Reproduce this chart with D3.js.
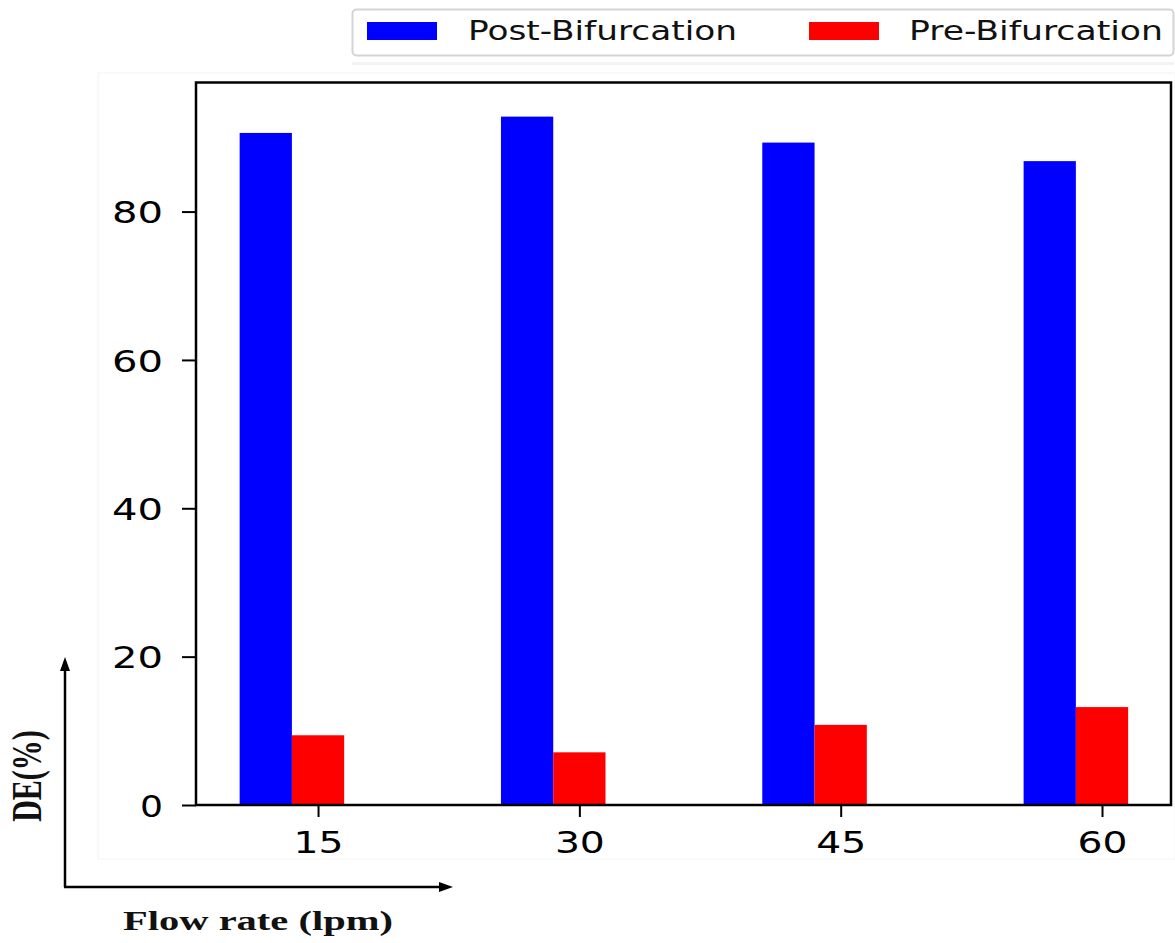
<!DOCTYPE html>
<html>
<head>
<meta charset="utf-8">
<script src="https://cdn.jsdelivr.net/npm/d3@7"></script>
<style>
  html, body { margin: 0; padding: 0; background: #fff; }
  svg { display: block; }
</style>
</head>
<body>
<svg id="chart" width="1175" height="943"></svg>
<script>
// ---- data ----
const categories = ["15", "30", "45", "60"];
const seriesNames = ["Post-Bifurcation", "Pre-Bifurcation"];
const postValues = [90.6, 92.8, 89.3, 86.8];
const preValues = [9.4, 7.1, 10.8, 13.2];
const yTicks = [0, 20, 40, 60, 80];
const yLabel = "DE(%)";
const xLabel = "Flow rate (lpm)";
const colors = ["#0000ff", "#ff0000"];

// ---- layout ----
const svg = d3.select("#chart");
const L = 196, R = 1171, T = 82.5, B = 805;

const x = d3.scaleLinear().domain([-0.467, 3.264]).range([L, R]);
const y = d3.scaleLinear().domain([0, 97.4]).range([B, T]);
const barW = x(0.2) - x(0);

// faint figure frame
svg.append("rect").attr("x", 98).attr("y", 73).attr("width", 1077).attr("height", 786)
  .attr("fill", "none").attr("stroke", "#f4f4f4").attr("stroke-width", 1);

// bars (tick sits at the centre of the second bar)
const series = [postValues, preValues];
series.forEach((vals, si) => {
  svg.append("g").selectAll("rect").data(vals).join("rect")
    .attr("x", (d, i) => x(i) + (si === 0 ? -1.5 * barW : -0.5 * barW))
    .attr("y", d => y(d))
    .attr("width", barW)
    .attr("height", d => y(0) - y(d))
    .attr("fill", colors[si]);
});

// spines
svg.append("rect").attr("x", L).attr("y", T).attr("width", R - L).attr("height", B - T)
  .attr("fill", "none").attr("stroke", "#000").attr("stroke-width", 2.5);

// y axis
const yAxis = svg.append("g").attr("transform", `translate(${L},0)`)
  .call(d3.axisLeft(y).tickValues(yTicks).tickSize(14).tickPadding(19).tickFormat(d3.format("d")));
yAxis.select(".domain").remove();
yAxis.selectAll(".tick line").attr("stroke", "#000").attr("stroke-width", 2);
yAxis.selectAll(".tick text")
  .attr("font-family", "DejaVu Sans").attr("font-size", 31).attr("fill", "#000")
  .attr("dy", "0.36em")
  .attr("textLength", d => String(d).length === 1 ? 23 : 51)
  .attr("lengthAdjust", "spacingAndGlyphs");

// x axis
const xAxis = svg.append("g").attr("transform", `translate(0,${B})`)
  .call(d3.axisBottom(x).tickValues(d3.range(categories.length)).tickSize(12).tickPadding(0)
    .tickFormat(i => categories[i]));
xAxis.select(".domain").remove();
xAxis.selectAll(".tick line").attr("stroke", "#000").attr("stroke-width", 2);
xAxis.selectAll(".tick text")
  .attr("font-family", "DejaVu Sans").attr("font-size", 30).attr("fill", "#000")
  .attr("y", 48).attr("dy", 0)
  .attr("textLength", 50).attr("lengthAdjust", "spacingAndGlyphs");

// legend
const lg = svg.append("g");
lg.append("rect").attr("x", 352).attr("y", 62).attr("width", 822).attr("height", 3)
  .attr("fill", "#f3f3f3");
lg.append("rect").attr("x", 352.5).attr("y", 9.5).attr("width", 821).attr("height", 46)
  .attr("rx", 4).attr("fill", "#fff").attr("stroke", "#d4d4d4").attr("stroke-width", 2);
const legendItems = [
  { name: seriesNames[0], color: colors[0], px: 367, tx: 468, tl: 269 },
  { name: seriesNames[1], color: colors[1], px: 809, tx: 909, tl: 254 }
];
legendItems.forEach(it => {
  lg.append("rect").attr("x", it.px).attr("y", 22).attr("width", 70).attr("height", 18)
    .attr("fill", it.color);
  lg.append("text").attr("x", it.tx).attr("y", 40)
    .attr("font-family", "DejaVu Sans").attr("font-size", 26).attr("fill", "#111")
    .attr("textLength", it.tl).attr("lengthAdjust", "spacingAndGlyphs")
    .text(it.name);
});

// arrows
const ar = svg.append("g");
ar.append("line").attr("x1", 65).attr("y1", 887).attr("x2", 65).attr("y2", 668)
  .attr("stroke", "#000").attr("stroke-width", 2.5);
ar.append("line").attr("x1", 64).attr("y1", 887).attr("x2", 442).attr("y2", 887)
  .attr("stroke", "#000").attr("stroke-width", 2.5);
ar.append("path").attr("d", "M65,657 L60,671 L70,671 Z").attr("fill", "#000");
ar.append("path").attr("d", "M453,887 L439,882 L439,892 Z").attr("fill", "#000");

// axis titles
svg.append("text")
  .attr("transform", "translate(41,776) rotate(-90) scale(1,1.4)")
  .attr("text-anchor", "middle")
  .attr("font-family", "Liberation Serif").attr("font-weight", "bold").attr("font-size", 30)
  .attr("fill", "#111").text(yLabel);
svg.append("text")
  .attr("x", 123).attr("y", 930)
  .attr("font-family", "Liberation Serif").attr("font-weight", "bold").attr("font-size", 27)
  .attr("fill", "#111")
  .attr("textLength", 270).attr("lengthAdjust", "spacingAndGlyphs")
  .text(xLabel);
</script>
</body>
</html>
